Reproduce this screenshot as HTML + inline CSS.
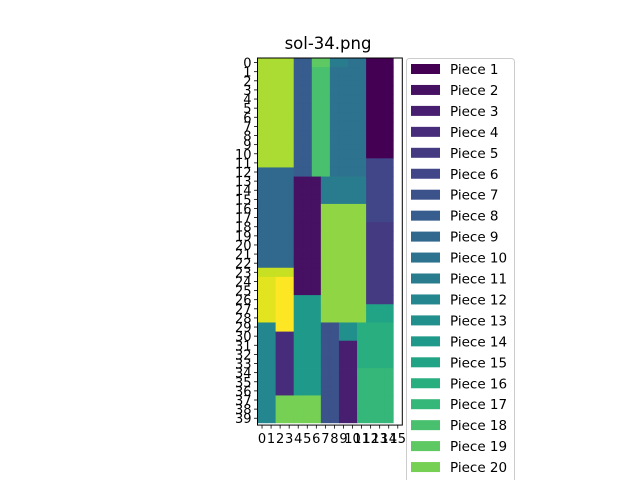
<!DOCTYPE html>
<html><head><meta charset="utf-8"><style>
body{margin:0;background:#fff;width:640px;height:480px;overflow:hidden}
text{font-family:"DejaVu Sans","Liberation Sans",sans-serif}
</style></head><body>
<svg id="chart" width="640" height="480" xmlns="http://www.w3.org/2000/svg">
<text x="328" y="49" font-size="16.5" text-anchor="middle">sol-34.png</text>
<g id="cells"></g>
<g id="axes"></g>
<g id="legend"></g>
</svg>
<script>
// piece id per cell: rows 0..39, cols 0..14 (letters a=1 ... y=25)
const gridRows = [
"vvvvhhsskkjjaaa","vvvvhhrrjjjjaaa","vvvvhhrrjjjjaaa","vvvvhhrrjjjjaaa","vvvvhhrrjjjjaaa",
"vvvvhhrrjjjjaaa","vvvvhhrrjjjjaaa","vvvvhhrrjjjjaaa","vvvvhhrrjjjjaaa","vvvvhhrrjjjjaaa",
"vvvvhhrrjjjjaaa","vvvvhhrrjjjjfff","iiiihhrrjjjjfff","iiiibbbkkkkkfff","iiiibbbkkkkkfff",
"iiiibbbkkkkkfff","iiiibbbuuuuufff","iiiibbbuuuuufff","iiiibbbuuuuueee","iiiibbbuuuuueee",
"iiiibbbuuuuueee","iiiibbbuuuuueee","iiiibbbuuuuueee","wwwwbbbuuuuueee","xxyybbbuuuuueee",
"xxyybbbuuuuueee","xxyynnnuuuuueee","xxyynnnuuuuuooo","xxyynnnuuuuuooo","llyynnnggmmpppp",
"llddnnnggmmpppp","llddnnnggccpppp","llddnnnggccpppp","llddnnnggccpppp","llddnnnggccqqqq",
"llddnnnggccqqqq","llddnnnggccqqqq","lltttttggccqqqq","lltttttggccqqqq","lltttttggccqqqq"];
const nPieces = 25;
const legendLabels = Array.from({length:20},(_,i)=>"Piece "+(i+1));
const xTicks = [0,1,2,3,4,5,6,7,8,9,10,11,12,13,14,15];
const yTicks = Array.from({length:40},(_,i)=>i);

const vir=["#440154","#481a6c","#472f7d","#414487","#39568c","#31688e","#2a788e","#23888e","#1f988b","#22a884","#35b779","#54c568","#7ad151","#a5db36","#d2e21b","#fde725"];
function hex(c){return [1,3,5].map(i=>parseInt(c.substr(i,2),16));}
function viridis(t){const p=t*15,i=Math.min(14,Math.floor(p)),f=p-i;const a=hex(vir[i]),b=hex(vir[i+1]);return "rgb("+a.map((v,k)=>Math.round(v+(b[k]-v)*f)).join(",")+")";}
function pieceColor(k){return viridis((k-1)/(nPieces-1));}
const NS="http://www.w3.org/2000/svg";
function mk(tag,at,parent){const e=document.createElementNS(NS,tag);for(const k in at)e.setAttribute(k,at[k]);parent.appendChild(e);return e;}
const X0=257.5,Y0=58,CW=9.05,RH=9.12;
const xs=c=>X0+(c+0.5)*CW, ys=r=>Y0+(r+0.5)*RH;
const cells=document.getElementById('cells');
gridRows.forEach((row,r)=>{for(let c=0;c<row.length;c++){
 const k=row.charCodeAt(c)-96;
 const el=mk('rect',{x:xs(c)-CW/2,y:ys(r)-RH/2,width:CW+0.4,height:RH+0.4,fill:pieceColor(k)},cells);
 
 
}});
const axes=document.getElementById('axes');
const fr=mk('rect',{x:X0,y:Y0,width:16*CW,height:40.25*RH,fill:"none",stroke:"#000","stroke-width":1},axes);


const yb=Y0+40.25*RH;
xTicks.forEach(v=>{
 mk('line',{x1:xs(v),x2:xs(v),y1:yb,y2:yb+3.5,stroke:"#000","stroke-width":0.8},axes);
 const t=mk('text',{x:xs(v),y:yb+18,"font-size":13,"text-anchor":"middle"},axes);t.textContent=v;
 
 
});
yTicks.forEach(v=>{
 mk('line',{x1:X0,x2:X0-3.5,y1:ys(v),y2:ys(v),stroke:"#000","stroke-width":0.8},axes);
 const t=mk('text',{x:X0-6,y:ys(v)+5,"font-size":13,"text-anchor":"end"},axes);t.textContent=v;
 
 
});
const lg=document.getElementById('legend');
const lb=mk('rect',{x:406.5,y:58.5,width:108,height:440,rx:3,fill:"#fff",stroke:"#ccc"},lg);


legendLabels.forEach((s,i)=>{
 const y=69+i*20.95;
 const p=mk('rect',{x:411,y:y-5,width:29,height:10,fill:pieceColor(i+1)},lg);
 
 
 const t=mk('text',{x:450,y:y+5,"font-size":13.5},lg);t.textContent=s;
 
 
});
</script>
</body></html>
